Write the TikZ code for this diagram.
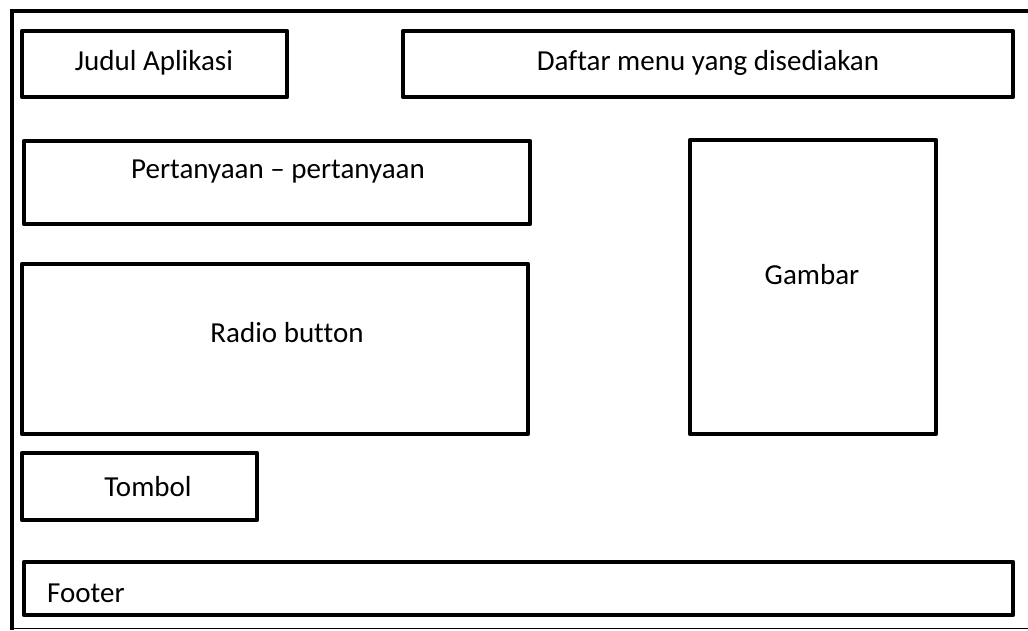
\documentclass[tikz,border=0pt]{standalone}
\usepackage{fontspec}
\setmainfont[Ligatures=NoCommon]{Carlito}
\begin{document}
\begin{tikzpicture}[x=1pt,y=-1pt,
  panel/.style={draw=black,line width=4.5pt,line join=round},
  label/.style={font=\fontsize{29}{34}\selectfont,inner sep=0pt}]
\useasboundingbox (0,0) rectangle (1028,630);
% outer frame: heavy left and top edges, thin bottom edge
\draw[line width=4.5pt,line cap=butt] (12,630) -- (12,11) -- (1028,11);
\draw[line width=1.2pt] (12,628.5) -- (1028,628.5);
% layout panels
\draw[panel] (22,31) rectangle (287,97);
\draw[panel] (403,31) rectangle (1013,97);
\draw[panel] (24,141) rectangle (530,224);
\draw[panel] (22,264) rectangle (528,434);
\draw[panel] (690,140) rectangle (936,434);
\draw[panel] (22,453) rectangle (257,520);
\draw[panel] (24,562) rectangle (1013,615);
% panel captions
\node[label] (judul) at (154,63) {Judul Aplikasi};
\node[label] (menu) at (708,63) {Daftar menu yang disediakan};
\node[label] (tanya) at (278,172) {Pertanyaan – pertanyaan};
\node[label] (radio) at (287,333) {Radio button};
\node[label] (gambar) at (812,275) {Gambar};
\node[label] (tombol) at (148,487) {Tombol};
\node[label,anchor=west] (footer) at (47,593) {Footer};
\end{tikzpicture}
\end{document}
